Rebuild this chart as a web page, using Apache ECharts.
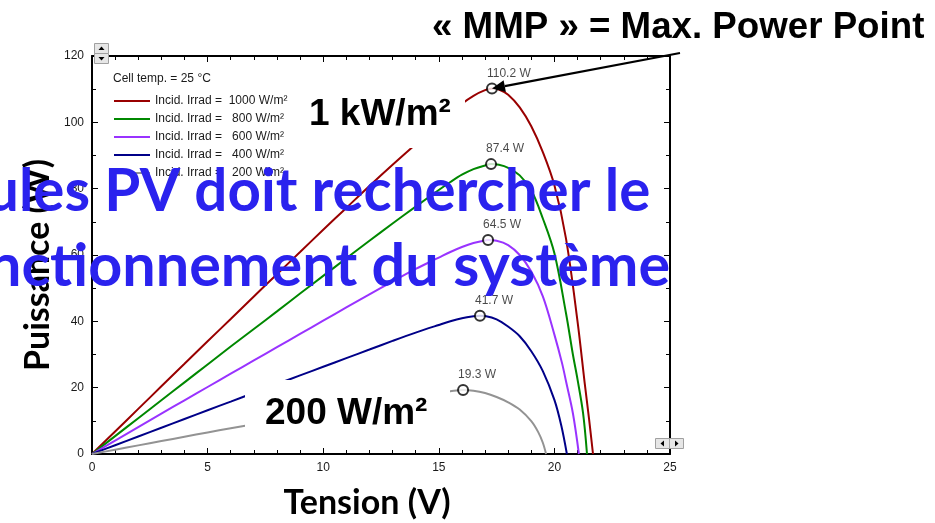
<!DOCTYPE html>
<html>
<head>
<meta charset="utf-8">
<script src="https://cdn.jsdelivr.net/npm/echarts@6/dist/echarts.min.js"></script>
<style>
  html, body { margin: 0; padding: 0; background: #fff; }
  #chart { width: 935px; height: 523px; }
</style>
</head>
<body>
<div id="chart"></div>
<script>
// P-V curves of a PV module at 25 °C for five irradiance levels
const seriesNames = [
  'Incid. Irrad =  1000 W/m²',
  'Incid. Irrad =   800 W/m²',
  'Incid. Irrad =   600 W/m²',
  'Incid. Irrad =   400 W/m²',
  'Incid. Irrad =   200 W/m²'
];
const seriesColors = ['#990000', '#008800', '#9933ff', '#000088', '#939393'];

const v1000 = [0,1,2,3,4,5,6,7,8,9,10,11,12,13,14,15,15.5,16,16.5,17,17.3,17.6,18,18.5,19,19.5,20,20.5,21,21.3,21.5,21.67];
const p1000 = [0,6.8,13.6,20.4,27.2,34.0,40.7,47.5,54.2,60.9,67.6,74.2,80.8,87.2,93.4,99.6,102.5,105.6,108.0,109.7,110.2,109.9,108.3,104.5,98.8,91.0,81.0,65.0,40.0,22.0,10.5,0];

const v800 = [0,1,2,3,4,5,6,7,8,9,10,11,12,13,14,15,15.5,16,16.5,17,17.26,17.6,18,18.5,19,19.5,20,20.5,20.8,21.0,21.24,21.41];
const p800 = [0,5.4,10.8,16.2,21.6,27.0,32.4,37.7,43.0,48.4,53.7,59.0,64.3,69.5,74.6,79.6,82.0,84.2,85.9,87.0,87.4,87.2,86.3,84.0,79.5,71.0,60.5,42.5,30.0,22.5,12.3,0];

const v600 = [0,1,2,3,4,5,6,7,8,9,10,11,12,13,14,15,15.5,16,16.5,17,17.13,17.5,18,18.5,19,19.5,20,20.33,20.5,20.8,21.06];
const p600 = [0,4.05,8.1,12.15,16.2,20.2,24.2,28.2,32.2,36.2,40.2,44.2,48.1,52.0,55.8,59.2,60.9,62.4,63.6,64.4,64.5,64.3,63.0,60.0,55.0,47.5,36.0,27.4,22.0,12.3,0];

const v400 = [0,1,2,3,4,5,6,7,8,9,10,11,12,13,14,15,15.5,16,16.5,16.78,17,17.5,18,18.5,19,19.5,20,20.3,20.54];
const p400 = [0,2.64,5.28,7.92,10.56,13.2,15.8,18.45,21.1,23.7,26.3,28.9,31.5,34.1,36.6,38.9,40.0,40.9,41.5,41.7,41.6,40.6,38.4,35.5,31.0,25.0,16.3,8.5,0];

const v200 = [0,1,2,3,4,5,6,7,8,9,10,11,12,13,14,15,15.5,16.05,16.5,17,17.5,18,18.5,19,19.3,19.5,19.64];
const p200 = [0,1.3,2.6,3.9,5.2,6.5,7.75,9.0,10.3,11.6,12.8,14.0,15.2,16.3,17.4,18.4,18.9,19.3,19.1,18.4,17.2,15.6,13.4,9.9,6.6,3.4,0];

// maximum power points
const mppVoltage = [17.3, 17.26, 17.13, 16.78, 16.05];
const mppPower = [110.2, 87.4, 64.5, 41.7, 19.3];

const xTicks = { min: 0, max: 25, step: 5 };
const yTicks = { min: 0, max: 120, step: 20 };

const curves = [[v1000, p1000], [v800, p800], [v600, p600], [v400, p400], [v200, p200]];

const chartFont = 'Liberation Sans, Arial, sans-serif';
const slideFont = 'Lato, Open Sans, sans-serif';

const chart = echarts.init(document.getElementById('chart'), null, { renderer: 'canvas' });

function axisCommon(showLabel, minorSplit) {
  return {
    axisLine: { show: true, onZero: false, lineStyle: { color: '#000', width: 2 } },
    axisTick: { show: true, inside: true, length: 6, lineStyle: { color: '#000', width: 1 } },
    minorTick: { show: true, splitNumber: minorSplit, length: 4, lineStyle: { color: '#000', width: 1 } },
    axisLabel: { show: showLabel, color: '#1a1a1a', fontSize: 12, fontFamily: chartFont, margin: 8 },
    splitLine: { show: false }
  };
}

const lineSeries = curves.map((c, i) => ({
  name: seriesNames[i],
  type: 'line',
  data: c[0].map((v, k) => [v, c[1][k]]),
  showSymbol: false,
  smooth: 0.35,
  lineStyle: { width: 2, color: seriesColors[i] },
  itemStyle: { color: seriesColors[i] },
  z: 2
}));

const mppSeries = {
  name: 'MPP',
  type: 'scatter',
  data: mppVoltage.map((v, i) => [v, mppPower[i]]),
  symbol: 'circle',
  symbolSize: 10,
  itemStyle: { color: '#fff', borderColor: '#000', borderWidth: 2 },
  label: {
    show: true,
    position: 'top',
    align: 'left',
    distance: 3,
    offset: [-5, 0],
    formatter: p => p.value[1].toFixed(1) + ' W',
    fontSize: 12,
    fontFamily: chartFont,
    color: '#1a1a1a'
  },
  z: 5
};

chart.setOption({
  animation: false,
  backgroundColor: '#fff',
  grid: { left: 92, top: 56, right: 265, bottom: 69 },
  legend: {
    data: seriesNames,
    orient: 'vertical',
    left: 114,
    top: 94,
    padding: 0,
    itemWidth: 36,
    itemHeight: 2,
    itemGap: 4,
    icon: 'rect',
    selectedMode: false,
    textStyle: { fontSize: 12, fontFamily: chartFont, color: '#1a1a1a', lineHeight: 14 }
  },
  xAxis: [
    Object.assign({ type: 'value', min: xTicks.min, max: xTicks.max, interval: xTicks.step, position: 'bottom' }, axisCommon(true, 5)),
    Object.assign({ type: 'value', min: xTicks.min, max: xTicks.max, interval: xTicks.step, position: 'top' }, axisCommon(false, 5))
  ],
  yAxis: [
    Object.assign({ type: 'value', min: yTicks.min, max: yTicks.max, interval: yTicks.step, position: 'left' }, axisCommon(true, 2)),
    Object.assign({ type: 'value', min: yTicks.min, max: yTicks.max, interval: yTicks.step, position: 'right' }, axisCommon(false, 2))
  ],
  series: lineSeries.concat([mppSeries])
});

// annotations laid over the plot
const tip = chart.convertToPixel({ xAxisIndex: 0, yAxisIndex: 0 }, [mppVoltage[0], mppPower[0]]);
const tail = [680, 53];
const ang = Math.atan2(tip[1] - tail[1], tip[0] - tail[0]);
const headLen = 13, headHalf = 6;
const base = [tip[0] - headLen * Math.cos(ang), tip[1] - headLen * Math.sin(ang)];
const nx = -Math.sin(ang), ny = Math.cos(ang);

function button(x, y, dir) {
  const w = 14, h = 10;
  const cx = x + w / 2, cy = y + h / 2;
  let pts;
  if (dir === 'up') pts = [[cx - 3, cy + 1.5], [cx + 3, cy + 1.5], [cx, cy - 2]];
  else if (dir === 'down') pts = [[cx - 3, cy - 1.5], [cx + 3, cy - 1.5], [cx, cy + 2]];
  else if (dir === 'left') pts = [[cx + 1.5, cy - 3], [cx + 1.5, cy + 3], [cx - 2, cy]];
  else pts = [[cx - 1.5, cy - 3], [cx - 1.5, cy + 3], [cx + 2, cy]];
  return [
    { type: 'rect', z: 40, shape: { x: x, y: y, width: w, height: h }, style: { fill: '#e6e6e6', stroke: '#a0a0a0', lineWidth: 1 } },
    { type: 'polygon', z: 41, shape: { points: pts }, style: { fill: '#000' } }
  ];
}

const graphics = [].concat(
  button(94.5, 43.5, 'up'), button(94.5, 53.5, 'down'),
  button(655.5, 438.5, 'left'), button(669.5, 438.5, 'right'),
  [
    { type: 'text', z: 45, left: 113, top: 73, style: { text: 'Cell temp. = 25 °C', fontSize: 12, fontFamily: chartFont, fill: '#1a1a1a' } },
    // white panels behind the slide captions
    { type: 'rect', z: 50, shape: { x: 300, y: 84, width: 165, height: 64 }, style: { fill: '#fff' } },
    { type: 'rect', z: 50, shape: { x: 245, y: 380, width: 205, height: 66 }, style: { fill: '#fff' } },
    { type: 'text', z: 60, x: 309, y: 133, style: { text: '1 kW/m²', fontSize: 37, fontWeight: 'bold', fontFamily: chartFont, fill: '#000', verticalAlign: 'bottom' } },
    { type: 'text', z: 60, x: 265, y: 432, style: { text: '200 W/m²', fontSize: 37, fontWeight: 'bold', fontFamily: chartFont, fill: '#000', verticalAlign: 'bottom' } },
    { type: 'text', z: 60, x: 432, y: 46, style: { text: '« MMP » = Max. Power Point', fontSize: 36.7, fontWeight: 'bold', fontFamily: chartFont, fill: '#000', verticalAlign: 'bottom' } },
    { type: 'text', z: 60, x: 367, y: 503, style: { text: 'Tension (V)', fontSize: 34, fontWeight: 'bold', fontFamily: slideFont, fill: '#000', align: 'center', verticalAlign: 'middle' } },
    { type: 'text', z: 60, x: 38, y: 265, rotation: Math.PI / 2, style: { text: 'Puissance (W)', fontSize: 34, fontWeight: 'bold', fontFamily: slideFont, fill: '#000', align: 'center', verticalAlign: 'middle' } },
    // arrow pointing at the 1000 W/m² maximum power point
    { type: 'line', z: 62, shape: { x1: tail[0], y1: tail[1], x2: base[0], y2: base[1] }, style: { stroke: '#000', lineWidth: 2.2 } },
    { type: 'polygon', z: 62, shape: { points: [[tip[0], tip[1]], [base[0] + nx * headHalf, base[1] + ny * headHalf], [base[0] - nx * headHalf, base[1] - ny * headHalf]] }, style: { fill: '#000' } },
    // slide body text running over the chart
    { type: 'text', z: 70, x: -14, y: 221, style: { text: 'ules PV doit rechercher le', fontSize: 58.3, fontWeight: 'bold', fontFamily: slideFont, fill: '#2a22ee', verticalAlign: 'bottom' } },
    { type: 'text', z: 70, x: -12, y: 296, style: { text: 'nctionnement du système', fontSize: 59.3, fontWeight: 'bold', fontFamily: slideFont, fill: '#2a22ee', verticalAlign: 'bottom' } }
  ]
);

chart.setOption({ graphic: graphics });
</script>
</body>
</html>
